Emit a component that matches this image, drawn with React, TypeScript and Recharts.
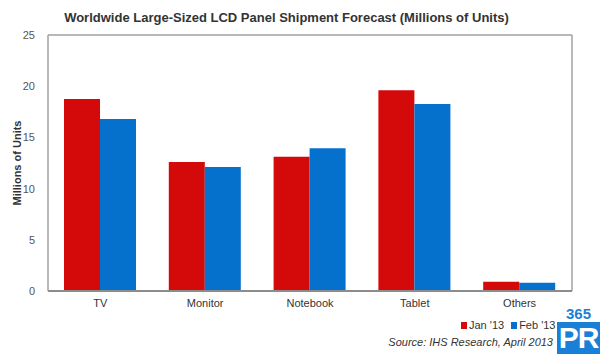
import React from 'react';
import { BarChart, Bar, XAxis, YAxis, ReferenceLine } from 'recharts';

const categories = ['TV', 'Monitor', 'Notebook', 'Tablet', 'Others'];
const jan13 = [18.75, 12.6, 13.1, 19.6, 0.9];
const feb13 = [16.8, 12.1, 13.95, 18.25, 0.8];
const yTicks = [0, 5, 10, 15, 20, 25];
const seriesNames = ["Jan '13", "Feb '13"];

const data = categories.map((c, i) => ({ name: c, jan: jan13[i], feb: feb13[i] }));

const RED = '#d40909';
const BLUE = '#0571cc';
const FONT = '"Liberation Sans", Arial, sans-serif';

export default function App() {
  return (
    <div style={{ position: 'absolute', left: 0, top: 0, width: 600, height: 354, background: '#fff', overflow: 'hidden' }}>
      <div style={{ position: 'absolute', left: 0, width: 573, top: 10, textAlign: 'center', fontFamily: FONT, fontWeight: 'bold', fontSize: 13, color: '#333', lineHeight: '16px' }}>
        Worldwide Large-Sized LCD Panel Shipment Forecast (Millions of Units)
      </div>
      <BarChart width={600} height={354} data={data} margin={{ top: 35, right: 27, bottom: 33, left: 0 }} barGap={0} barSize={36}>
        <YAxis yAxisId="right" orientation="right" domain={[0, 25]} tick={false} tickLine={false} axisLine={{ stroke: '#a0a0a0', strokeWidth: 1.5 }} width={1} />
        <XAxis dataKey="name" height={30} tickLine={false} axisLine={{ stroke: '#8c8c8c', strokeWidth: 2 }} tick={{ fill: '#333', fontSize: 11, fontFamily: FONT }} tickSize={6} tickMargin={2} />
        <YAxis
          domain={[0, 25]}
          ticks={yTicks}
          width={48}
          tickLine={false}
          tickSize={6}
          tickMargin={7}
          axisLine={{ stroke: '#a0a0a0', strokeWidth: 1.5 }}
          tick={{ fill: '#555', fontSize: 11, fontFamily: FONT }}
          label={{ value: 'Millions of Units', angle: -90, position: 'insideLeft', offset: 17, style: { textAnchor: 'middle', fontFamily: FONT, fontWeight: 'bold', fontSize: 11, fill: '#333' } }}
        />
        <ReferenceLine y={25} stroke="#a0a0a0" strokeWidth={1.5} ifOverflow="visible" />
        <Bar dataKey="jan" name={seriesNames[0]} fill={RED} isAnimationActive={false} />
        <Bar dataKey="feb" name={seriesNames[1]} fill={BLUE} isAnimationActive={false} />
      </BarChart>
      <div style={{ position: 'absolute', left: 461, top: 318, display: 'flex', alignItems: 'center', fontFamily: FONT, fontSize: 11, color: '#333', lineHeight: '14px' }}>
        <span style={{ width: 6, height: 7, background: RED, display: 'inline-block', marginRight: 2 }} />
        <span style={{ marginRight: 7 }}>{seriesNames[0]}</span>
        <span style={{ width: 6, height: 7, background: BLUE, display: 'inline-block', marginRight: 2 }} />
        <span>{seriesNames[1]}</span>
      </div>
      <div style={{ position: 'absolute', right: 47, top: 335, fontFamily: FONT, fontStyle: 'italic', fontSize: 11, color: '#333', lineHeight: '14px' }}>
        Source: IHS Research, April 2013
      </div>
      <div style={{ position: 'absolute', left: 557, top: 306, width: 43, textAlign: 'center', fontFamily: FONT, fontWeight: 'bold', fontSize: 15, color: '#1a7fd6', lineHeight: '16px' }}>
        365
      </div>
      <div style={{ position: 'absolute', left: 557, top: 322, width: 43, height: 32, background: '#1a7fd6', color: '#fff', fontFamily: FONT, fontWeight: 'bold', fontSize: 30, lineHeight: '32px', textAlign: 'center', letterSpacing: -1 }}>
        PR
      </div>
    </div>
  );
}
